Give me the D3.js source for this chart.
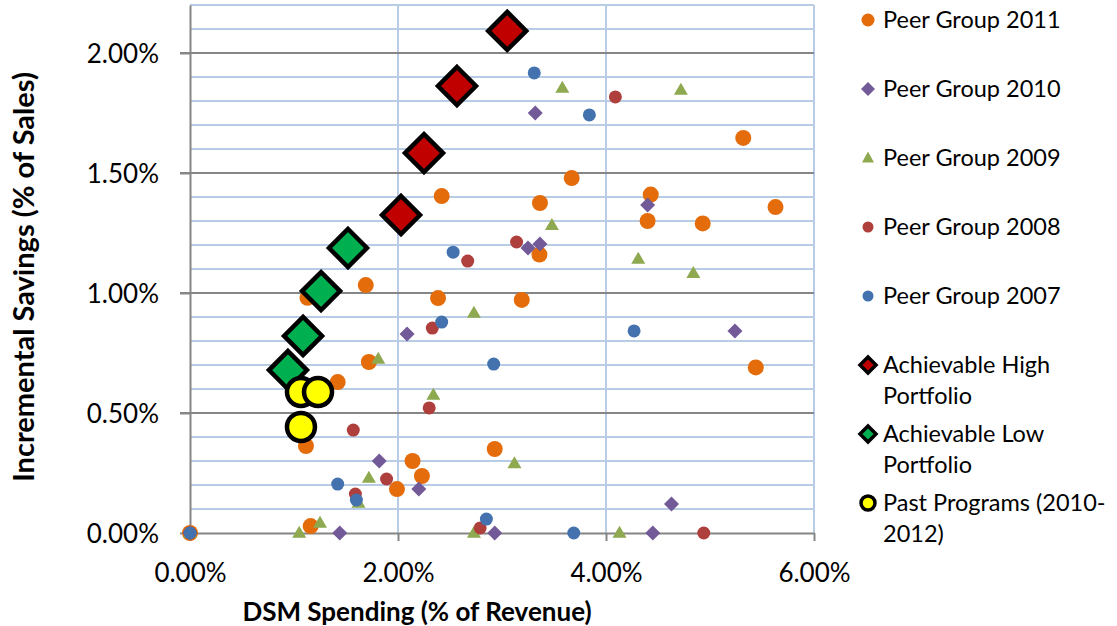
<!DOCTYPE html>
<html><head><meta charset="utf-8">
<script src="https://cdn.jsdelivr.net/npm/d3@7"></script>
<style>body{margin:0;background:#fff;} svg{display:block;font-family:Lato,"Liberation Sans",sans-serif;}</style>
</head><body><svg id="c" width="1117" height="626"></svg>
<script>
// Data: [DSM spending %, incremental savings %]
const peer2011 = [[2.42,1.404],[1.69,1.033],[5.32,1.646],[3.67,1.479],[3.365,1.375],[4.43,1.41],[5.63,1.358],[4.40,1.30],[4.93,1.29],[3.36,1.16],[2.385,0.979],[3.19,0.971],[1.13,0.98],[1.42,0.629],[1.72,0.7125],[5.44,0.69],[1.115,0.3625],[2.14,0.30],[2.23,0.2375],[1.99,0.183],[2.93,0.35],[1.16,0.029],[0,0]];
const peer2010 = [[3.32,1.75],[4.40,1.367],[3.25,1.1875],[3.365,1.204],[2.087,0.829],[5.24,0.842],[1.82,0.30],[2.20,0.183],[4.63,0.121],[1.44,0],[2.93,0],[4.45,0],[0,0]];
const peer2009 = [[3.58,1.854],[4.72,1.846],[3.48,1.283],[4.31,1.142],[4.84,1.083],[2.73,0.917],[1.81,0.725],[2.34,0.575],[3.12,0.29],[1.72,0.229],[1.62,0.125],[1.25,0.042],[1.05,0],[2.73,0],[4.13,0],[0,0]];
const peer2008 = [[4.09,1.817],[3.14,1.2125],[2.67,1.133],[2.33,0.854],[2.30,0.521],[1.57,0.429],[1.89,0.225],[1.59,0.1625],[2.79,0.021],[4.94,0],[0,0]];
const peer2007 = [[3.31,1.917],[3.84,1.742],[2.53,1.17],[2.42,0.879],[4.27,0.842],[2.92,0.704],[1.42,0.204],[1.60,0.1375],[2.85,0.058],[3.69,0],[0,0]];
const achievableHigh = [[3.05,2.092],[2.567,1.8625],[2.25,1.583],[2.029,1.325]];
const achievableLow = [[1.519,1.1875],[1.26,1.008],[1.087,0.821],[0.942,0.679]];
const pastPrograms = [[1.067,0.5875],[1.231,0.5875],[1.067,0.442]];
const xTicks = [0,2,4,6];
const yTicks = [0,0.5,1.0,1.5,2.0];
const yMinor = d3.range(0,2.21,0.1).map(v=>+v.toFixed(1));
const legendLabels = [["Peer Group 2011"],["Peer Group 2010"],["Peer Group 2009"],["Peer Group 2008"],["Peer Group 2007"],["Achievable High","Portfolio"],["Achievable Low","Portfolio"],["Past Programs (2010-","2012)"]];

const svg = d3.select("#c");
const x = d3.scaleLinear().domain([0,6]).range([190,814]);
const y = d3.scaleLinear().domain([0,2.2]).range([533,5]);
const gridBlue = "#B9CCE6", axisGray = "#868686";

// minor horizontal grid
svg.append("g").selectAll("line").data(yMinor.filter(v=>Math.round(v*10)%5!==0))
  .join("line").attr("x1",x(0)).attr("x2",x(6)).attr("y1",d=>y(d)).attr("y2",d=>y(d))
  .attr("stroke",gridBlue).attr("stroke-width",2);
// top border
svg.append("line").attr("x1",x(0)).attr("x2",x(6)).attr("y1",y(2.2)).attr("y2",y(2.2)).attr("stroke",gridBlue).attr("stroke-width",2);
// vertical grid
svg.append("g").selectAll("line").data([2,4,6]).join("line")
  .attr("x1",d=>x(d)).attr("x2",d=>x(d)).attr("y1",y(2.2)).attr("y2",y(0))
  .attr("stroke",gridBlue).attr("stroke-width",2);
// major horizontal grid
svg.append("g").selectAll("line").data(yTicks.filter(v=>v>0)).join("line")
  .attr("x1",x(0)-10).attr("x2",x(6)).attr("y1",d=>y(d)).attr("y2",d=>y(d))
  .attr("stroke",axisGray).attr("stroke-width",2);

// axes
const yAxis = svg.append("g").attr("transform",`translate(${x(0)},0)`)
  .call(d3.axisLeft(y).tickValues(yTicks).tickFormat(d=>d.toFixed(2)+"%").tickSizeOuter(0).tickSizeInner(10).tickPadding(21));
const xAxis = svg.append("g").attr("transform",`translate(0,${y(0)})`)
  .call(d3.axisBottom(x).tickValues(xTicks).tickFormat(d=>d.toFixed(2)+"%").tickSizeOuter(0).tickSizeInner(8));
[yAxis,xAxis].forEach(a=>{
  a.select(".domain").attr("stroke",axisGray).attr("stroke-width",2);
  a.selectAll(".tick line").attr("stroke",axisGray).attr("stroke-width",2);
  a.selectAll("text").attr("font-size",26).attr("fill","#000").attr("font-family","Lato, 'Liberation Sans', sans-serif");
});
yAxis.selectAll("text").attr("dy","0.36em");
xAxis.selectAll("text").attr("y",49).attr("dy",0);

// titles
svg.append("text").attr("x",417).attr("y",621).attr("text-anchor","middle")
  .attr("font-size",26).attr("font-weight","bold").text("DSM Spending (% of Revenue)");
svg.append("text").attr("transform","translate(34,277) rotate(-90)").attr("text-anchor","middle")
  .attr("font-size",29).attr("font-weight","bold").text("Incremental Savings (% of Sales)");

const diamondPath = (r)=>`M0,${-r}L${r},0L0,${r}L${-r},0Z`;
const triPath = (w,h)=>`M0,${-h*0.6}L${w/2},${h*0.4}L${-w/2},${h*0.4}Z`;

const series = [
  {data:peer2011, kind:"circle", r:8, fill:"#E46C0A"},
  {data:peer2010, kind:"path", d:diamondPath(7.5), fill:"#725A98"},
  {data:peer2009, kind:"path", d:triPath(14,12), fill:"#8EA94F"},
  {data:peer2008, kind:"circle", r:6.5, fill:"#AE3F3C"},
  {data:peer2007, kind:"circle", r:6.5, fill:"#4372AE"},
  {data:achievableHigh, kind:"path", d:diamondPath(19), fill:"#C00000", stroke:"#000", sw:4.5},
  {data:achievableLow, kind:"path", d:diamondPath(19), fill:"#00B050", stroke:"#000", sw:4.5},
  {data:pastPrograms, kind:"circle", r:14, fill:"#FFFF00", stroke:"#000", sw:4.5}
];
series.forEach(s=>{
  const g = svg.append("g");
  if(s.kind==="circle"){
    g.selectAll("circle").data(s.data).join("circle")
      .attr("cx",d=>x(d[0])).attr("cy",d=>y(d[1])).attr("r",s.r)
      .attr("fill",s.fill).attr("stroke",s.stroke||"none").attr("stroke-width",s.sw||0);
  } else {
    g.selectAll("path").data(s.data).join("path")
      .attr("transform",d=>`translate(${x(d[0])},${y(d[1])})`).attr("d",s.d)
      .attr("fill",s.fill).attr("stroke",s.stroke||"none").attr("stroke-width",s.sw||0).attr("stroke-linejoin","miter");
  }
});

// legend
const legY = [20,89,158,227,296,365,434,503];
const legMarks = [
  {kind:"circle", r:6.5, fill:"#E46C0A"},
  {kind:"path", d:diamondPath(7), fill:"#725A98"},
  {kind:"path", d:triPath(12,11), fill:"#8EA94F"},
  {kind:"circle", r:5.5, fill:"#AE3F3C"},
  {kind:"circle", r:5.5, fill:"#4372AE"},
  {kind:"path", d:diamondPath(8), fill:"#C00000", stroke:"#000", sw:3.5},
  {kind:"path", d:diamondPath(8), fill:"#00B050", stroke:"#000", sw:3.5},
  {kind:"circle", r:7, fill:"#FFFF00", stroke:"#000", sw:3.5}
];
const leg = svg.append("g");
legendLabels.forEach((lines,i)=>{
  const m = legMarks[i];
  if(m.kind==="circle") leg.append("circle").attr("cx",868).attr("cy",legY[i]).attr("r",m.r).attr("fill",m.fill).attr("stroke",m.stroke||"none").attr("stroke-width",m.sw||0);
  else leg.append("path").attr("transform",`translate(868,${legY[i]})`).attr("d",m.d).attr("fill",m.fill).attr("stroke",m.stroke||"none").attr("stroke-width",m.sw||0);
  lines.forEach((t,j)=>{
    leg.append("text").attr("x",883).attr("y",legY[i]+j*31).attr("dy","0.36em").attr("font-size",23.5).attr("fill","#000").text(t);
  });
});
</script></body></html>
